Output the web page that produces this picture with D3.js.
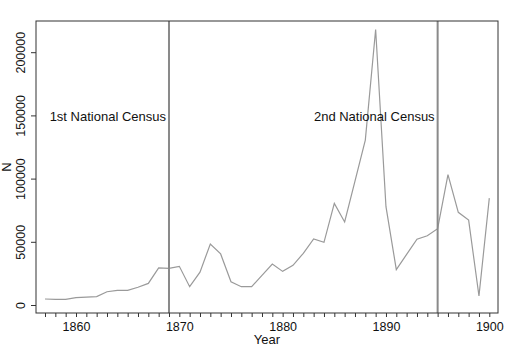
<!DOCTYPE html>
<html>
<head>
<meta charset="utf-8">
<script src="https://cdn.jsdelivr.net/npm/d3@7"></script>
<style>
  html, body { margin: 0; padding: 0; background: #fff; }
  svg { display: block; font-family: "Liberation Sans", Arial, Helvetica, sans-serif; }
</style>
</head>
<body>
<svg id="chart" width="519" height="355"></svg>
<script>
const years = d3.range(1857, 1901);
const counts = [
  4750, 4500, 4500, 5800, 6300, 6600, 10500, 11600, 11600, 14000,
  17100, 29300, 29000, 30600, 14500, 26000, 48300, 40400, 18400, 14500,
  14500, 23500, 32400, 26600, 31400, 40900, 52200, 49600, 80400, 65700,
  98000, 130500, 218000, 77800, 28000, 40000, 52000, 54800, 60400, 103100,
  73300, 67200, 7100, 84600
];
const censusYears = [1869, 1895];
const censusLabels = ["1st National Census", "2nd National Census"];
const yTicks = [0, 50000, 100000, 150000, 200000];
const xTicks = [1860, 1870, 1880, 1890, 1900];

const data = years.map((yr, i) => ({ year: yr, n: counts[i] }));

const svg = d3.select("#chart");
const pLeft = 36, pRight = 498, pTop = 21, pBottom = 313;

const x = d3.scaleLinear().domain([1860, 1900]).range([76, 489.3]);
const y = d3.scaleLinear().domain([0, 200000]).range([305, 52.2]);

// data line
svg.append("path")
  .datum(data)
  .attr("fill", "none")
  .attr("stroke", "#9a9a9a")
  .attr("stroke-width", 1.2)
  .attr("d", d3.line().x(d => x(d.year)).y(d => y(d.n)));

// census lines
svg.selectAll("line.census")
  .data(censusYears)
  .join("line")
  .attr("class", "census")
  .attr("x1", d => x(d)).attr("x2", d => x(d))
  .attr("y1", pTop).attr("y2", pBottom)
  .attr("stroke", "#8a8a8a")
  .attr("stroke-width", 2);

svg.selectAll("text.census")
  .data(censusYears)
  .join("text")
  .attr("class", "census")
  .attr("x", d => x(d) - 3)
  .attr("y", 121)
  .attr("text-anchor", "end")
  .attr("font-size", 13)
  .attr("fill", "#111")
  .text((d, i) => censusLabels[i]);

// box
svg.append("rect")
  .attr("x", pLeft).attr("y", pTop)
  .attr("width", pRight - pLeft).attr("height", pBottom - pTop)
  .attr("fill", "none")
  .attr("stroke", "#333")
  .attr("stroke-width", 1);

// x axis (minor ticks every year, labels every 10)
const xAxis = d3.axisBottom(x)
  .tickValues(years)
  .tickSize(4)
  .tickFormat(d => xTicks.includes(d) ? String(d) : "");
const gx = svg.append("g")
  .attr("transform", `translate(0,${pBottom})`)
  .call(xAxis);
gx.select(".domain").remove();
gx.selectAll(".tick line").attr("stroke", "#333");
gx.selectAll(".tick text")
  .attr("font-size", 12.5)
  .attr("fill", "#111")
  .attr("font-family", "Liberation Sans, Arial, sans-serif")
  .attr("dy", "0.71em")
  .attr("y", 9);

// y axis
const yAxis = d3.axisLeft(y)
  .tickValues(yTicks)
  .tickSize(5)
  .tickFormat(d => String(d));
const gy = svg.append("g")
  .attr("transform", `translate(${pLeft},0)`)
  .call(yAxis);
gy.select(".domain").remove();
gy.selectAll(".tick line").attr("stroke", "#333");
gy.selectAll(".tick text")
  .attr("font-size", 12.5)
  .attr("fill", "#111")
  .attr("font-family", "Liberation Sans, Arial, sans-serif")
  .attr("x", null)
  .attr("text-anchor", "middle")
  .attr("transform", "translate(-10,0) rotate(-90)")
  .attr("y", 0)
  .attr("dy", "-0.1em");

// axis titles
svg.append("text")
  .attr("x", (pLeft + pRight) / 2)
  .attr("y", 344)
  .attr("text-anchor", "middle")
  .attr("font-size", 13)
  .attr("fill", "#111")
  .text("Year");

svg.append("text")
  .attr("transform", `translate(11,${(pTop + pBottom) / 2}) rotate(-90)`)
  .attr("text-anchor", "middle")
  .attr("font-size", 13)
  .attr("fill", "#111")
  .text("N");
</script>
</body>
</html>
